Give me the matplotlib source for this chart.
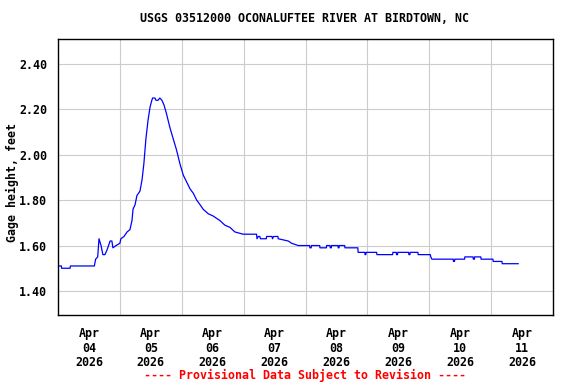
import matplotlib
matplotlib.use("Agg")
import matplotlib.pyplot as plt
import pandas as pd

# gage height readings, hours after 2026-04-04 00:00
hours = [0, 1.3, 1.4, 4.7, 4.8, 14.1, 14.6, 15.4, 15.9, 16.7,
         17.4, 18.2, 19.0, 20.2, 20.9, 21.3, 22.5, 24.0, 24.4, 25.6,
         26.8, 27.9, 28.7, 29.1, 29.9, 30.6, 31.8, 32.6, 33.3, 34.1,
         34.9, 35.7, 36.4, 36.7, 37.6, 38.0, 38.8, 39.5, 40.3, 41.1,
         42.1, 43.4, 44.7, 46.0, 47.3, 48.6, 49.9, 51.2, 52.5, 53.8,
         55.1, 56.3, 58.3, 60.2, 62.8, 64.7, 66.7, 68.6, 71.8, 77.0,
         77.2, 77.7, 78.3, 78.5, 79.0, 80.8, 80.9, 83.0, 83.2, 83.6,
         85.3, 85.4, 89.3, 90.6, 93.2, 97.6, 97.7, 98.2, 98.3, 101.5,
         101.6, 104.1, 104.2, 105.5, 105.6, 106.0, 106.1, 108.6, 108.7, 109.0,
         109.1, 111.2, 111.3, 116.3, 116.4, 119.0, 119.1, 119.4, 119.5, 123.6,
         123.7, 129.8, 129.9, 131.2, 131.3, 131.7, 131.8, 136.0, 136.1, 136.5,
         136.6, 139.6, 139.7, 144.4, 144.6, 145.0, 153.3, 153.4, 153.8, 153.9,
         157.7, 157.8, 161.0, 161.1, 161.5, 161.6, 164.0, 164.1, 168.7, 168.8,
         172.2, 172.3, 178.5]
gage = [1.51, 1.51, 1.50, 1.50, 1.51, 1.51, 1.54, 1.55, 1.63, 1.60,
        1.56, 1.56, 1.58, 1.62, 1.62, 1.59, 1.60, 1.61, 1.63, 1.64,
        1.66, 1.67, 1.71, 1.76, 1.78, 1.82, 1.84, 1.89, 1.96, 2.07,
        2.15, 2.21, 2.24, 2.25, 2.25, 2.24, 2.24, 2.25, 2.24, 2.22,
        2.18, 2.12, 2.07, 2.02, 1.96, 1.91, 1.88, 1.85, 1.83, 1.80,
        1.78, 1.76, 1.74, 1.73, 1.71, 1.69, 1.68, 1.66, 1.65, 1.65,
        1.63, 1.64, 1.64, 1.63, 1.63, 1.63, 1.64, 1.64, 1.63, 1.64,
        1.64, 1.63, 1.62, 1.61, 1.60, 1.60, 1.59, 1.59, 1.60, 1.60,
        1.59, 1.59, 1.60, 1.60, 1.59, 1.59, 1.60, 1.60, 1.59, 1.59,
        1.60, 1.60, 1.59, 1.59, 1.57, 1.57, 1.56, 1.56, 1.57, 1.57,
        1.56, 1.56, 1.57, 1.57, 1.56, 1.56, 1.57, 1.57, 1.56, 1.56,
        1.57, 1.57, 1.56, 1.56, 1.55, 1.54, 1.54, 1.53, 1.53, 1.54,
        1.54, 1.55, 1.55, 1.54, 1.54, 1.55, 1.55, 1.54, 1.54, 1.53,
        1.53, 1.52, 1.52]

day_labels = ["Apr\n04\n2026", "Apr\n05\n2026", "Apr\n06\n2026", "Apr\n07\n2026",
              "Apr\n08\n2026", "Apr\n09\n2026", "Apr\n10\n2026", "Apr\n11\n2026"]
y_ticks = [1.40, 1.60, 1.80, 2.00, 2.20, 2.40]

start = pd.Timestamp("2026-04-04")
times = start + pd.to_timedelta(hours, unit="h")

font = "DejaVu Sans Mono"
fs = 8.4

fig = plt.figure(figsize=(5.76, 3.84), dpi=100)
ax = fig.add_axes([58/576, 1 - 315/384, 495/576, 276/384])

ax.plot(times, gage, color="#0000ff", lw=0.9)

ax.set_xlim(start, start + pd.Timedelta(days=8))
ax.set_ylim(1.294, 2.51)

# labels at noon, grid at midnight
noons = [start + pd.Timedelta(hours=12 + 24*i) for i in range(len(day_labels))]
mids = [start + pd.Timedelta(days=i) for i in range(1, 8)]
ax.set_xticks(noons)
ax.set_xticklabels(day_labels, fontfamily=font, fontweight="bold", fontsize=fs,
                   linespacing=1.1)
ax.set_xticks(mids, minor=True)
ax.grid(which="minor", axis="x", color="#cccccc", lw=0.8)
ax.set_yticks(y_ticks)
ax.set_yticklabels([f"{v:.2f}" for v in y_ticks], fontfamily=font,
                   fontweight="bold", fontsize=fs)
ax.grid(which="major", axis="y", color="#cccccc", lw=0.8)
ax.tick_params(which="both", length=0)
ax.tick_params(axis="x", pad=9)
ax.tick_params(axis="y", pad=8)
ax.set_axisbelow(True)
for s in ax.spines.values():
    s.set_linewidth(1)
    s.set_color("black")

fig.text(305/576, 1 - 19/384, "USGS 03512000 OCONALUFTEE RIVER AT BIRDTOWN, NC",
         ha="center", va="center", fontfamily=font, fontweight="bold", fontsize=fs)
fig.text(12/576, 1 - 183/384, "Gage height, feet", rotation=90, ha="center",
         va="center", fontfamily=font, fontweight="bold", fontsize=fs)
fig.text(305/576, 1 - 375/384, "---- Provisional Data Subject to Revision ----",
         ha="center", va="center", fontfamily=font, fontweight="bold",
         fontsize=fs, color="red")

fig.savefig("out.png", dpi=100)
